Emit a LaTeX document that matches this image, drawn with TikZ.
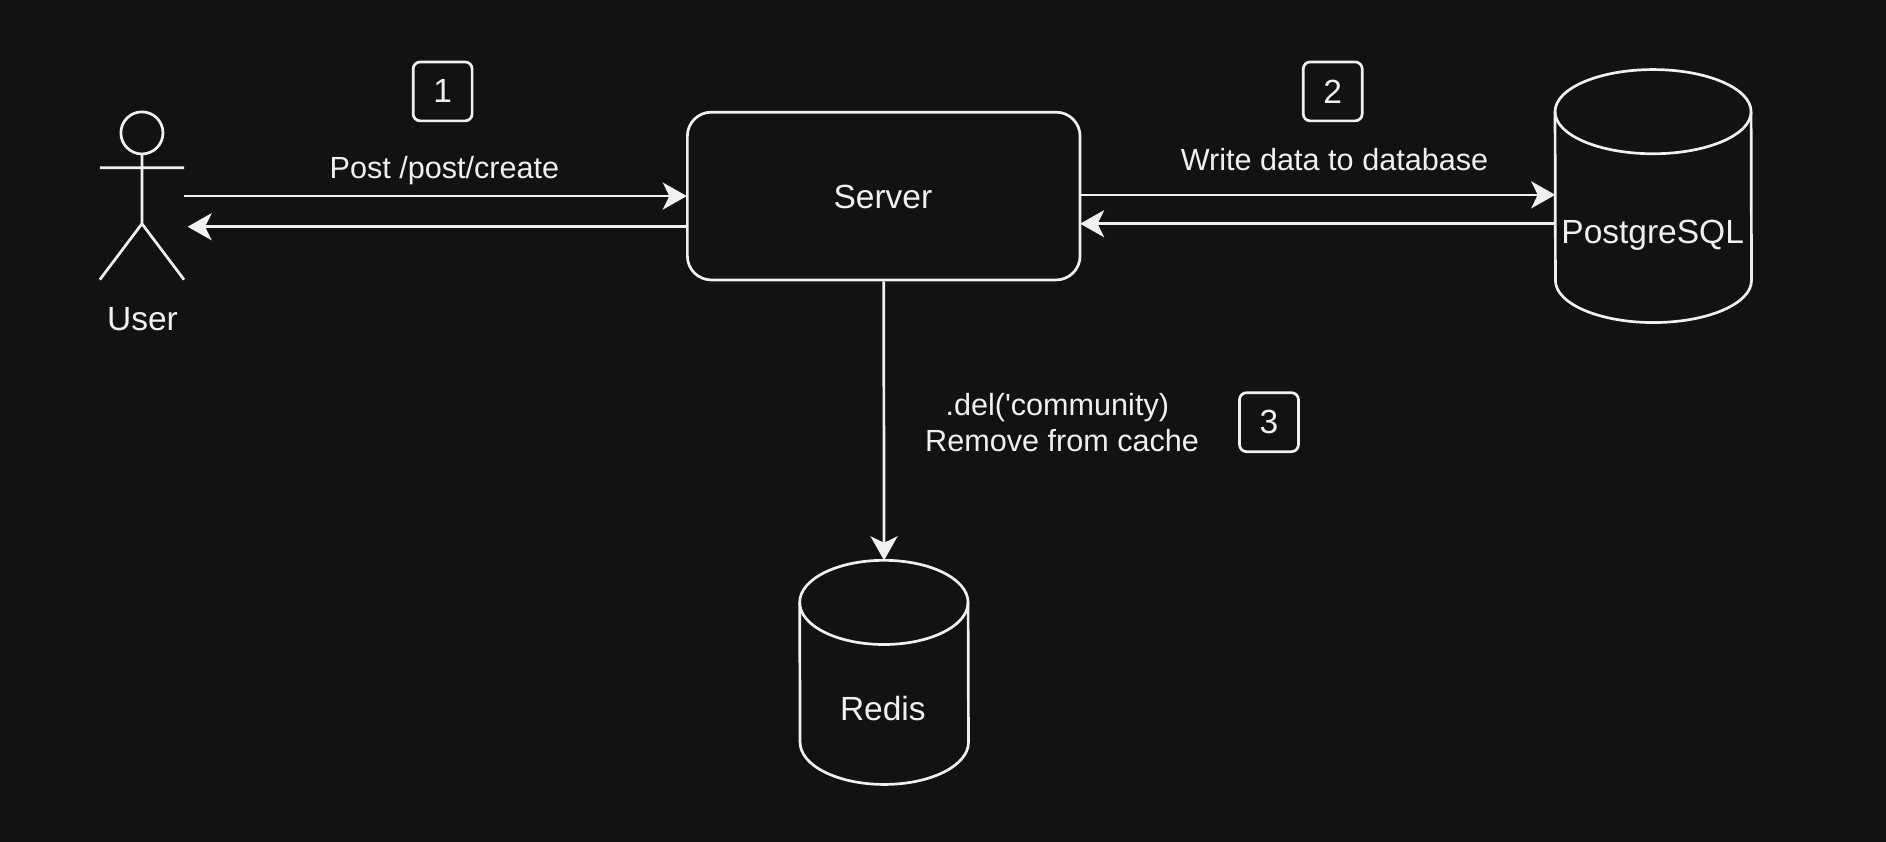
\documentclass[tikz,border=0pt]{standalone}
\usepackage{fontspec}
\setmainfont{Liberation Sans}
\usetikzlibrary{arrows.meta,calc}
\definecolor{bgc}{HTML}{121212}
\definecolor{fgc}{HTML}{F0F0F0}
\newlength{\uu}
\setlength{\uu}{1.2028pt}
\tikzset{
  every node/.style={text=fgc,font=\fontsize{30.6pt}{36pt}\selectfont},
  big/.style={font=\fontsize{33.5pt}{38pt}\selectfont},
  line/.style={draw=fgc,line width=2.7pt},
  conn/.style={line,-{Stealth[length=24pt,width=27pt,inset=6.5pt]}},
  label/.style={inner sep=0pt,align=center},
  badge/.style={line,big,rounded corners=7pt,minimum width=49\uu,minimum height=49\uu,inner sep=0pt},
  serverbox/.style={line,rounded corners=24pt,minimum width=326.5\uu,minimum height=139.5\uu,inner sep=0pt},
  cylbox/.style={inner sep=0pt,draw=none},
}
\newcommand{\cylinderbody}[3]{% name, half-width (units), ry (units)
  \draw[line,line join=round] ($(#1.north west)+(0,#3)$)
     arc[start angle=180,end angle=0,x radius=#2\uu,y radius=#3\uu]
     -- ($(#1.south east)+(0,-#3)$)
     arc[start angle=0,end angle=-180,x radius=#2\uu,y radius=#3\uu]
     -- cycle;
  \draw[line] ($(#1.north west)+(0,#3)$)
     arc[start angle=180,end angle=360,x radius=#2\uu,y radius=#3\uu];
}
\begin{document}
\begin{tikzpicture}[x=1.2028pt,y=-1.2028pt]
\fill[bgc] (0,0) rectangle (1568,700);
\useasboundingbox (0,0) rectangle (1568,700);

% actor
\coordinate (head) at (118,110.5);
\coordinate (neck) at (118,128);
\coordinate (hip) at (118,186);
\coordinate (armL) at (83,139.5);
\coordinate (armR) at (153,139.5);
\coordinate (legL) at (83,232.5);
\coordinate (legR) at (153,232.5);
\draw[line] (head) circle[x radius=17.5\uu,y radius=17.5\uu];
\draw[line] (neck) -- (hip) (armL) -- (armR) (legL) -- (hip) -- (legR);
\node[label,big] (user) at (118.5,265) {User};
\coordinate (userOut) at (153,163);
\coordinate (userIn) at (156,188.5);

% nodes
\node[serverbox] (server) at (734.7,163) {};
\node[label,big] (servertext) at (734,163.5) {Server};
\node[cylbox,minimum width=163\uu,minimum height=210\uu] (pg) at (1374.5,163) {};
\node[cylbox,minimum width=140\uu,minimum height=186\uu] (redis) at (735,559) {};
\cylinderbody{pg}{81.5}{35}
\cylinderbody{redis}{70}{35}
\node[label,big] (pgtext) at (1374,196) {PostgreSQL};
\node[label,big] (redistext) at (734,589) {Redis};

% badges
\node[badge] (b1) at (368,76) {1};
\node[badge] (b2) at (1108,76) {2};
\node[badge] (b3) at (1055,351) {3};

% labels
\node[label] (l1) at (369.5,141.5) {Post /post/create};
\node[label] (l2) at (1109.5,133) {Write data to database};
\node[label] (l3) at (879,338.5) {.del(\textquotesingle community)};
\node[label] (l4) at (883,366.5) {Remove from cache};

% connectors
\coordinate (sL1) at (571,163);
\coordinate (sL2) at (571,188.5);
\coordinate (sR1) at (898,162);
\coordinate (sR2) at (898,186);
\coordinate (pL1) at (1293,162);
\coordinate (pL2) at (1293,186);
\draw[conn] (userOut) -- (sL1);
\draw[conn] (sL2) -- (userIn);
\draw[conn] (sR1) -- (pL1);
\draw[conn] (pL2) -- (sR2);
\draw[conn] (server.south) -- (redis.north);
\end{tikzpicture}
\end{document}
